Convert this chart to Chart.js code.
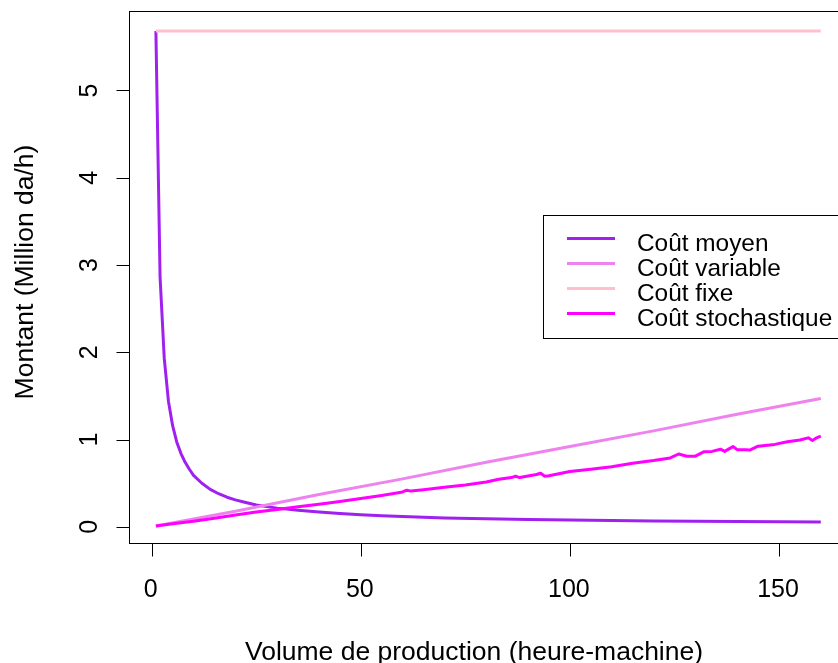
<!DOCTYPE html>
<html><head><meta charset="utf-8">
<script src="https://cdn.jsdelivr.net/npm/chart.js@4.4.1/dist/chart.umd.min.js"></script>
<style>
html,body{margin:0;padding:0;overflow:hidden;background:#fff;width:838px;height:663px}
#wrap{position:absolute;left:0;top:0;width:900px;height:663px}
</style>
</head><body><div id="wrap"><canvas id="c" width="900" height="663"></canvas></div>
<script>
// ---- data ----
const seriesNames = ["Coût moyen", "Coût variable", "Coût fixe", "Coût stochastique"];
const xTicks = [0, 50, 100, 150];
const yTicks = [0, 1, 2, 3, 4, 5];
const xTitle = "Volume de production (heure-machine)";
const yTitle = "Montant (Million da/h)";

const acX = [1,2,3,4,5,6,7,8,9,10,12,14,16,18,20,22,25,30,35,40,45,50,55,60,65,70,80,90,100,110,120,130,140,150,160];
const acY = [5.68,2.86,1.93,1.44,1.16,0.97,0.84,0.74,0.66,0.59,0.50,0.43,0.38,0.34,0.31,0.285,0.25,0.215,0.19,0.17,0.153,0.14,0.128,0.118,0.11,0.103,0.093,0.085,0.078,0.072,0.068,0.064,0.061,0.058,0.056];

const vcX = [1,20,40,60,80,100,120,140,160];
const vcY = [0.01,0.18,0.37,0.55,0.74,0.92,1.10,1.29,1.47];

const fcX = [1,160];
const fcY = [5.68,5.68];

const scX = [1,5,10,15,20,25,30,35,40,45,50,55,60,61,62,65,70,75,80,83,86,87,88,92,93,94,95,100,105,110,115,120,124,126,128,130,132,134,136,137,139,140,142,143,145,149,152,155,157,158,159,160];
const scY = [0.01,0.035,0.065,0.10,0.135,0.17,0.20,0.23,0.26,0.29,0.325,0.36,0.40,0.42,0.41,0.425,0.455,0.48,0.515,0.545,0.565,0.58,0.565,0.60,0.615,0.58,0.585,0.635,0.66,0.69,0.73,0.76,0.79,0.835,0.81,0.81,0.86,0.865,0.89,0.865,0.92,0.885,0.885,0.88,0.925,0.945,0.975,0.995,1.02,0.99,1.02,1.04];

const colors = ["#A020F0", "#EE82EE", "#FFC0CB", "#FF00FF"];

function pts(xs, ys){ return xs.map((x,i)=>({x:x, y:ys[i]})); }

const FONT = '"Liberation Sans", Arial, sans-serif';

const rAxes = {
  id: 'rAxes',
  afterDraw(chart){
    const ctx = chart.ctx, a = chart.chartArea;
    const xs = chart.scales.x, ys = chart.scales.y;
    ctx.save();
    // box
    ctx.strokeStyle = '#000'; ctx.lineWidth = 1;
    ctx.strokeRect(Math.round(a.left)+0.5, Math.round(a.top)+0.5, Math.round(a.right-a.left), Math.round(a.bottom-a.top));
    // ticks
    const bY = Math.round(a.bottom)+0.5;
    ctx.beginPath();
    xTicks.forEach(t=>{ const px = Math.round(xs.getPixelForValue(t))+0.5; ctx.moveTo(px,bY); ctx.lineTo(px,bY+13); });
    const lX = Math.round(a.left)+0.5;
    yTicks.forEach(t=>{ const py = Math.round(ys.getPixelForValue(t))+0.5; ctx.moveTo(lX,py); ctx.lineTo(lX-13,py); });
    ctx.stroke();
    ctx.fillStyle = '#000';
    ctx.font = '25px ' + FONT;
    ctx.textAlign = 'center'; ctx.textBaseline = 'alphabetic';
    xTicks.forEach(t=>{ ctx.fillText(String(t), xs.getPixelForValue(t) - 1, 597); });
    yTicks.forEach(t=>{
      ctx.save(); ctx.translate(97, ys.getPixelForValue(t)); ctx.rotate(-Math.PI/2);
      ctx.fillText(String(t), 0, 0); ctx.restore();
    });
    ctx.font = '26.5px ' + FONT;
    ctx.fillText(xTitle, 474, 660);
    ctx.save(); ctx.translate(33, 272); ctx.rotate(-Math.PI/2);
    ctx.fillText(yTitle, 0, 0); ctx.restore();
    // legend
    const L = 543.5, T = 215.5, R = 848, B = 338.5;
    ctx.fillStyle = '#fff'; ctx.fillRect(L, T, R-L, B-T);
    ctx.strokeStyle = '#000'; ctx.lineWidth = 1; ctx.strokeRect(L, T, R-L, B-T);
    ctx.font = '24.4px ' + FONT; ctx.textAlign = 'left';
    seriesNames.forEach((n,i)=>{
      const y = 238.5 + i*25;
      ctx.strokeStyle = colors[i]; ctx.lineWidth = 3;
      ctx.beginPath(); ctx.moveTo(567, y); ctx.lineTo(615, y); ctx.stroke();
      ctx.fillStyle = '#000'; ctx.fillText(n, 637, y + 12);
    });
    ctx.restore();
  }
};

const datasets = [
  {label: seriesNames[0], data: pts(acX, acY), borderColor: colors[0], order: 4},
  {label: seriesNames[1], data: pts(vcX, vcY), borderColor: colors[1], order: 3},
  {label: seriesNames[2], data: pts(fcX, fcY), borderColor: colors[2], order: 2},
  {label: seriesNames[3], data: pts(scX, scY), borderColor: colors[3], order: 1}
].map(d => Object.assign(d, {showLine: true, pointRadius: 0, borderWidth: 3, tension: 0, fill: false, borderJoinStyle: 'round', borderCapStyle: 'butt'}));

new Chart(document.getElementById('c'), {
  type: 'scatter',
  data: { datasets },
  options: {
    responsive: false, animation: false, devicePixelRatio: 1,
    layout: { padding: { left: 129.3, top: 11, right: 52.6, bottom: 119.7 } },
    plugins: { legend: { display: false }, tooltip: { enabled: false } },
    scales: {
      x: { type: 'linear', display: false, min: -5.36, max: 166.36 },
      y: { type: 'linear', display: false, min: -0.188, max: 5.91 }
    }
  },
  plugins: [rAxes]
});
</script></body></html>
